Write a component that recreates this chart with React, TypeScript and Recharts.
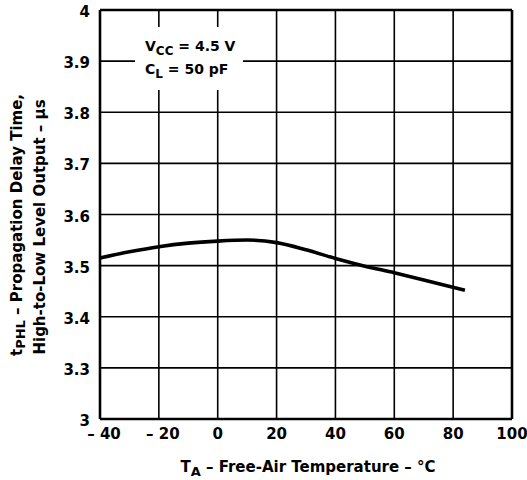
import React from 'react';
import { LineChart, Line, XAxis, YAxis, CartesianGrid, ReferenceLine } from 'recharts';

// Free-air temperature (°C) and tPHL (µs)
const tempC = [-40, -30, -20, -10, 0, 10, 20, 30, 40, 50, 60, 70, 84];
const delayUs = [3.515, 3.527, 3.537, 3.544, 3.548, 3.55, 3.545, 3.531, 3.514, 3.499, 3.486, 3.472, 3.452];

const xTicks = [-40, -20, 0, 20, 40, 60, 80, 100];
const xTickLabels = ['– 40', '– 20', '0', '20', '40', '60', '80', '100'];
// the axis is broken: the bottom gridline is labelled 3
const yTicks = [3.2, 3.3, 3.4, 3.5, 3.6, 3.7, 3.8, 3.9, 4.0];
const yTickLabels = ['3', '3.3', '3.4', '3.5', '3.6', '3.7', '3.8', '3.9', '4'];

const data = tempC.map((t, i) => ({ t, d: delayUs[i] }));

const FONT = '"DejaVu Sans", "Liberation Sans", Arial, sans-serif';

function XTick(props: any) {
  const { x, y, index } = props;
  const label = xTickLabels[index];
  // negative labels sit a little to the right of their gridline
  const dx = label.startsWith('–') ? 4 : 0;
  return (
    <text x={x + dx} y={y + 18} textAnchor="middle" fontFamily={FONT} fontWeight="bold" fontSize={15} fill="#000">
      {label}
    </text>
  );
}

function YTick(props: any) {
  const { x, y, index } = props;
  return (
    <text x={x} y={y + 7} textAnchor="end" fontFamily={FONT} fontWeight="bold" fontSize={15} fill="#000">
      {yTickLabels[index]}
    </text>
  );
}

function YLabel() {
  return (
    <g fontFamily={FONT} fontWeight="bold" fontSize={15} fill="#000">
      <text transform="translate(22,225) rotate(-90)" textAnchor="middle">
        t<tspan fontSize={13} dy={3}>PHL</tspan>
        <tspan dy={-3}> – Propagation Delay Time,</tspan>
      </text>
      <text transform="translate(45,227) rotate(-90)" textAnchor="middle">
        High-to-Low Level Output – µs
      </text>
    </g>
  );
}

function XLabel() {
  return (
    <text x={308} y={472} textAnchor="middle" fontFamily={FONT} fontWeight="bold" fontSize={15} fill="#000">
      T<tspan fontSize={13} dy={4}>A</tspan>
      <tspan dy={-4}> – Free-Air Temperature – °C</tspan>
    </text>
  );
}

export default function App() {
  return (
    <div style={{ position: 'absolute', left: 0, top: 0, width: 527, height: 480, background: '#fff' }}>
      <LineChart width={527} height={480} data={data} margin={{ top: 10, right: 15, bottom: 0, left: 0 }}>
        <CartesianGrid stroke="#000" strokeWidth={1.6} strokeOpacity={1} />
        <XAxis
          dataKey="t"
          type="number"
          domain={[-40, 100]}
          ticks={xTicks}
          height={61}
          axisLine={false}
          tickLine={false}
          tickSize={0}
          tick={<XTick />}
          interval={0}
          label={XLabel}
        />
        <YAxis
          type="number"
          domain={[3.2, 4]}
          ticks={yTicks}
          width={100}
          axisLine={false}
          tickLine={false}
          tickSize={0}
          tickMargin={10}
          tick={<YTick />}
          interval={0}
          label={YLabel}
        />
        <ReferenceLine x={-40} stroke="#000" strokeWidth={2.6} />
        <ReferenceLine x={100} stroke="#000" strokeWidth={2.6} />
        <ReferenceLine y={3.2} stroke="#000" strokeWidth={2.6} />
        <ReferenceLine y={4} stroke="#000" strokeWidth={2.6} />
        <Line
          dataKey="d"
          type="monotone"
          stroke="#000"
          strokeWidth={3.6}
          dot={false}
          isAnimationActive={false}
        />
      </LineChart>
      <div
        style={{
          position: 'absolute',
          left: 135,
          top: 27,
          width: 108,
          height: 63,
          background: '#fff',
          fontFamily: FONT,
          fontWeight: 'bold',
          fontSize: 14,
          color: '#000',
          lineHeight: '23px',
        }}
      >
        <div style={{ position: 'absolute', left: 10, top: 8, whiteSpace: 'nowrap' }}>
          V<span style={{ fontSize: 12, position: 'relative', top: 4 }}>CC</span> = 4.5 V
        </div>
        <div style={{ position: 'absolute', left: 10, top: 31, whiteSpace: 'nowrap' }}>
          C<span style={{ fontSize: 12, position: 'relative', top: 4 }}>L</span> = 50 pF
        </div>
      </div>
    </div>
  );
}
